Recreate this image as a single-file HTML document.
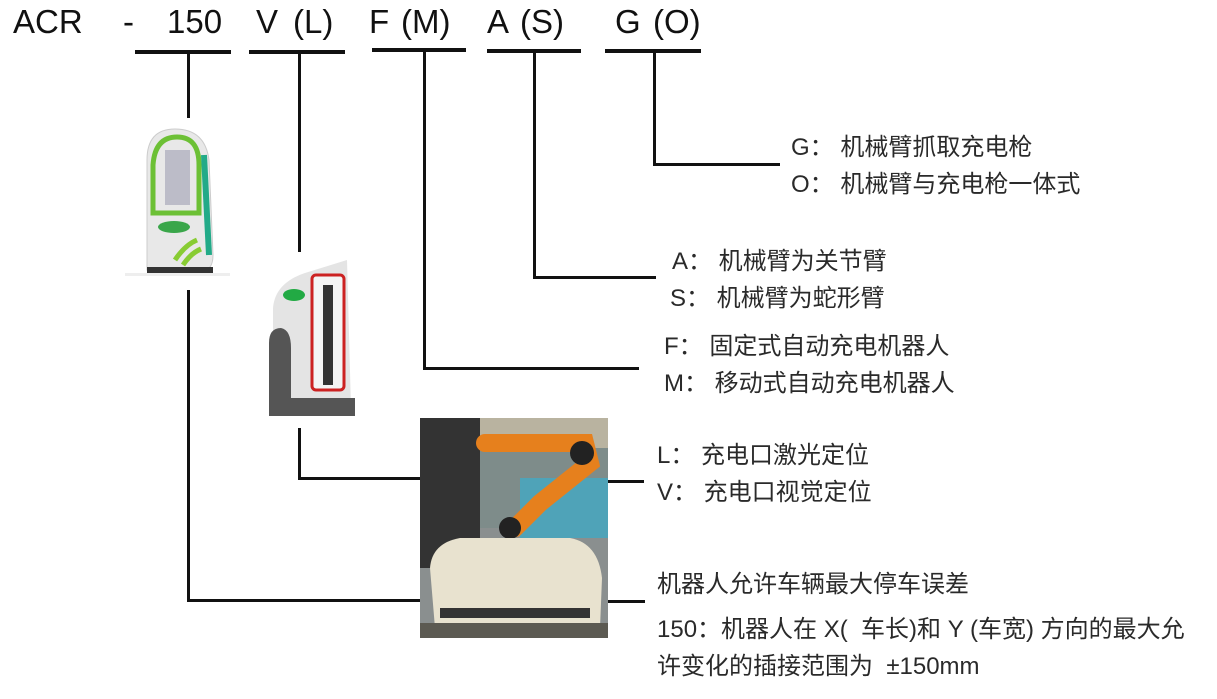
<!DOCTYPE html>
<html><head><meta charset="utf-8"><style>
body{margin:0;width:1217px;height:699px;background:#fff;position:relative;overflow:hidden;font-family:"Liberation Sans","Noto Sans CJK SC",sans-serif;}
.t{position:absolute;font-size:33px;color:#111;line-height:1;top:5px;}
.l{position:absolute;background:#111;}
.c{position:absolute;font-size:24px;color:#2a2a2a;line-height:1;white-space:nowrap;font-family:"Liberation Sans","Noto Sans CJK SC",sans-serif;}
</style></head><body>
<div class="t" style="left:13px">ACR</div>
<div class="t" style="left:123px">-</div>
<div class="t" style="left:167px">150</div>
<div class="t" style="left:256px">V</div>
<div class="t" style="left:293px">(L)</div>
<div class="t" style="left:369px">F</div>
<div class="t" style="left:401px">(M)</div>
<div class="t" style="left:487px">A</div>
<div class="t" style="left:520px">(S)</div>
<div class="t" style="left:615px">G</div>
<div class="t" style="left:653px">(O)</div>

<div class="l" style="left:135px;top:50px;width:96px;height:4px"></div>
<div class="l" style="left:249px;top:50px;width:96px;height:4px"></div>
<div class="l" style="left:372px;top:48px;width:94px;height:4px"></div>
<div class="l" style="left:487px;top:49px;width:94px;height:4px"></div>
<div class="l" style="left:605px;top:49px;width:96px;height:4px"></div>

<div class="l" style="left:187px;top:52px;width:3px;height:66px"></div>
<div class="l" style="left:187px;top:290px;width:3px;height:312px"></div>
<div class="l" style="left:187px;top:599px;width:234px;height:3px"></div>
<div class="l" style="left:607px;top:600px;width:38px;height:3px"></div>
<div class="l" style="left:298px;top:52px;width:3px;height:200px"></div>
<div class="l" style="left:298px;top:428px;width:3px;height:52px"></div>
<div class="l" style="left:298px;top:477px;width:123px;height:3px"></div>
<div class="l" style="left:607px;top:480px;width:37px;height:3px"></div>
<div class="l" style="left:423px;top:50px;width:3px;height:320px"></div>
<div class="l" style="left:423px;top:367px;width:216px;height:3px"></div>
<div class="l" style="left:533px;top:51px;width:3px;height:228px"></div>
<div class="l" style="left:533px;top:276px;width:123px;height:3px"></div>
<div class="l" style="left:653px;top:51px;width:3px;height:115px"></div>
<div class="l" style="left:653px;top:163px;width:127px;height:3px"></div>

<svg style="position:absolute;left:125px;top:125px" width="105" height="160">
<rect x="0" y="148" width="105" height="3" fill="#eee"/>
<path d="M22 145 L22 35 Q22 4 50 4 Q80 4 84 35 L88 130 Q88 146 76 146 Z" fill="#e8e8e8" stroke="#ccc"/>
<path d="M28 88 L28 40 Q30 12 52 12 Q74 12 74 40 L74 88 Z" fill="none" stroke="#6cc035" stroke-width="5"/>
<rect x="40" y="25" width="25" height="55" fill="#aab" opacity=".7"/>
<ellipse cx="49" cy="102" rx="16" ry="6" fill="#3aa64a"/>
<path d="M79 30 L84 130" stroke="#2a8" stroke-width="6"/>
<path d="M50 135 Q60 120 72 115 M58 140 Q66 128 76 124" stroke="#8c3" stroke-width="5" fill="none"/>
<rect x="22" y="142" width="66" height="6" fill="#333"/>
</svg>
<svg style="position:absolute;left:265px;top:258px" width="92" height="162">
<path d="M8 150 L8 50 Q10 25 40 15 L82 2 L86 150 Z" fill="#e4e4e4"/>
<path d="M4 155 L4 85 Q4 70 16 70 Q26 72 26 90 L26 140 L90 140 L90 158 L4 158 Z" fill="#555"/>
<rect x="47" y="17" width="32" height="115" rx="4" fill="#f4f4f4" stroke="#c22" stroke-width="3"/>
<rect x="58" y="27" width="10" height="100" fill="#333"/>
<ellipse cx="29" cy="37" rx="11" ry="6" fill="#2a4"/>
</svg>
<svg style="position:absolute;left:420px;top:418px" width="188" height="220">
<rect width="188" height="220" fill="#8a8f8f"/>
<rect x="0" y="0" width="188" height="110" fill="#7e8c8a"/>
<rect x="100" y="60" width="88" height="60" fill="#4fa3b8"/>
<rect x="0" y="0" width="60" height="150" fill="#333"/>
<rect x="60" y="0" width="128" height="30" fill="#b9b3a0"/>
<path d="M65 25 L165 25 L170 45 L120 85 L95 110" stroke="#e6801d" stroke-width="18" fill="none" stroke-linecap="round"/>
<circle cx="162" cy="35" r="12" fill="#222"/>
<circle cx="90" cy="110" r="11" fill="#222"/>
<path d="M15 210 L10 150 Q12 125 40 120 L150 120 Q178 125 182 160 L180 210 Z" fill="#e8e2cf"/>
<rect x="20" y="190" width="150" height="10" fill="#333"/>
<rect x="0" y="205" width="188" height="15" fill="#5c5a52"/>
</svg>

<div class="c" style="left:791px;top:136px">G：&nbsp;机械臂抓取充电枪</div>
<div class="c" style="left:791px;top:173px">O：&nbsp;机械臂与充电枪一体式</div>
<div class="c" style="left:672px;top:250px">A：&nbsp;机械臂为关节臂</div>
<div class="c" style="left:670px;top:287px">S：&nbsp;机械臂为蛇形臂</div>
<div class="c" style="left:664px;top:335px">F：&nbsp;固定式自动充电机器人</div>
<div class="c" style="left:664px;top:372px">M：&nbsp;移动式自动充电机器人</div>
<div class="c" style="left:657px;top:444px">L：&nbsp;充电口激光定位</div>
<div class="c" style="left:657px;top:481px">V：&nbsp;充电口视觉定位</div>
<div class="c" style="left:657px;top:573px">机器人允许车辆最大停车误差</div>
<div class="c" style="left:657px;top:618px">150：机器人在 X(&nbsp; 车长)和 Y (车宽) 方向的最大允</div>
<div class="c" style="left:657px;top:655px">许变化的插接范围为 &nbsp;±150mm</div>
</body></html>
